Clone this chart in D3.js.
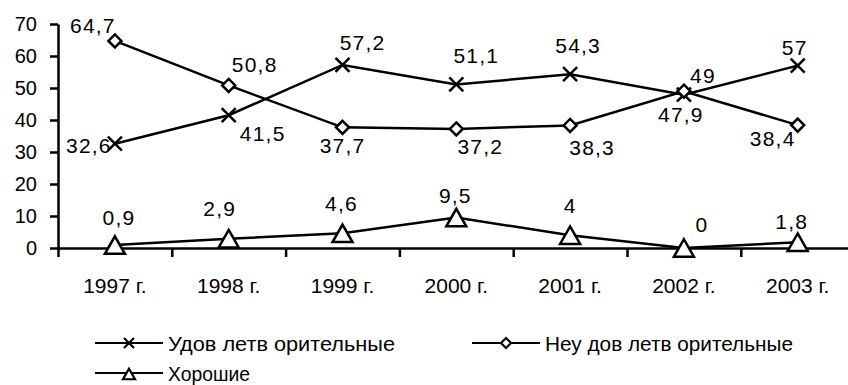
<!DOCTYPE html>
<html>
<head>
<meta charset="utf-8">
<script src="https://cdn.jsdelivr.net/npm/d3@7"></script>
<style>
  html, body { margin: 0; padding: 0; background: #fff; }
  svg { display: block; font-family: "Liberation Sans", Arial, sans-serif; }
</style>
</head>
<body>
<svg id="chart" width="848" height="385"></svg>
<script>
// Categories and series values
const years = ["1997 г.", "1998 г.", "1999 г.", "2000 г.", "2001 г.", "2002 г.", "2003 г."];
const satisfactory = [32.6, 41.5, 57.2, 51.1, 54.3, 47.9, 57];
const unsatisfactory = [64.7, 50.8, 37.7, 37.2, 38.3, 49, 38.4];
const good = [0.9, 2.9, 4.6, 9.5, 4, 0, 1.8];
const yTicks = [0, 10, 20, 30, 40, 50, 60, 70];
const seriesNames = ["Удов летв орительные", "Неу дов летв орительные", "Хорошие"];

const svg = d3.select("#chart");
const plotLeft = 58, step = 113.8, plotTop = 24, plotBottom = 248;

const x = d3.scaleBand().domain(years).range([plotLeft, plotLeft + step * years.length]).padding(0);
const xc = d => x(d) + x.bandwidth() / 2;
const y = d3.scaleLinear().domain([0, 70]).range([plotBottom, plotTop]);

// Y axis
const yAxis = svg.append("g")
  .attr("transform", `translate(${plotLeft},0)`)
  .call(d3.axisLeft(y).tickValues(yTicks).tickSize(8).tickSizeOuter(0).tickPadding(13));
yAxis.select(".domain").attr("stroke", "#000").attr("stroke-width", 2.5);
yAxis.selectAll(".tick line").attr("stroke", "#000").attr("stroke-width", 2.5);
yAxis.selectAll(".tick text").attr("font-size", 20).attr("fill", "#000")
  .attr("font-family", "Liberation Sans, Arial, sans-serif").attr("dy", "0.33em");

// X axis: line with tick marks between categories
const xb = d3.scaleLinear().domain([0, years.length]).range([plotLeft, plotLeft + step * years.length]);
const xAxis = svg.append("g")
  .attr("transform", `translate(0,${plotBottom})`)
  .call(d3.axisBottom(xb).tickValues(d3.range(0, years.length + 1)).tickSize(9).tickSizeOuter(0).tickFormat(""));
xAxis.select(".domain").attr("stroke", "#000").attr("stroke-width", 2.5);
xAxis.selectAll(".tick line").attr("stroke", "#000").attr("stroke-width", 2.5);

// Category labels
const xLab = svg.append("g")
  .attr("transform", `translate(0,${plotBottom})`)
  .call(d3.axisBottom(x).tickSize(0).tickPadding(0));
xLab.select(".domain").remove();
xLab.selectAll(".tick text").attr("font-size", 21).attr("fill", "#000")
  .attr("font-family", "Liberation Sans, Arial, sans-serif")
  .attr("y", 45).attr("dy", 0);

// Marker shapes
function markerPath(kind, s) {
  if (kind === "x") return `M${-s},${-s}L${s},${s}M${-s},${s}L${s},${-s}`;
  if (kind === "diamond") return `M0,${-s}L${s},0L0,${s}L${-s},0Z`;
  const h = s * 1.75;
  return `M0,${-h / 2}L${s},${h / 2}L${-s},${h / 2}Z`;
}

const fmt = v => String(v).replace(".", ",");

const series = [
  { values: satisfactory, kind: "x", size: 7,
    offsets: [[-26, 9], [34, 26], [20, -15], [20, -21], [8, -21], [-3, 27], [-3, -11]] },
  { values: unsatisfactory, kind: "diamond", size: 6.5,
    offsets: [[-22, -8], [26, -13], [0, 26], [24, 25], [22, 30], [19, -8], [-25, 21]] },
  { values: good, kind: "triangle", size: 10,
    offsets: [[4, -20], [-9, -23], [-1, -22], [-1, -15], [0, -22], [18, -16], [-6, -13]] }
];

const line = d3.line().x((d, i) => xc(years[i])).y(d => y(d));

series.forEach(s => {
  const g = svg.append("g");
  g.append("path").datum(s.values)
    .attr("d", line).attr("fill", "none").attr("stroke", "#000").attr("stroke-width", 2.5);
  g.selectAll("path.mk").data(s.values).join("path").attr("class", "mk")
    .attr("transform", (d, i) => `translate(${xc(years[i])},${y(d)})`)
    .attr("d", markerPath(s.kind, s.size))
    .attr("fill", s.kind === "x" ? "none" : "#fff")
    .attr("stroke", "#000").attr("stroke-width", 2.5);
});

series.forEach(s => {
  svg.append("g").selectAll("text").data(s.values).join("text")
    .attr("x", (d, i) => xc(years[i]) + s.offsets[i][0])
    .attr("y", (d, i) => y(d) + s.offsets[i][1])
    .attr("text-anchor", "middle")
    .attr("font-size", 21).attr("letter-spacing", 1.2).attr("fill", "#000")
    .text(d => fmt(d));
});

// Legend
const legendItems = [
  { name: seriesNames[0], kind: "x", lx: 95, ly: 343, width: 227 },
  { name: seriesNames[1], kind: "diamond", lx: 472, ly: 343, width: 248 },
  { name: seriesNames[2], kind: "triangle", lx: 95, ly: 373, width: 82 }
];
const legend = svg.append("g");
legendItems.forEach(it => {
  const g = legend.append("g").attr("transform", `translate(${it.lx},${it.ly})`);
  g.append("line").attr("x1", 0).attr("x2", 68).attr("y1", 0).attr("y2", 0)
    .attr("stroke", "#000").attr("stroke-width", 2.2);
  const s = it.kind === "triangle" ? 6 : 5;
  g.append("path").attr("transform", `translate(34,${it.kind === "triangle" ? 1 : 0})`)
    .attr("d", markerPath(it.kind, s))
    .attr("fill", it.kind === "x" ? "none" : "#fff")
    .attr("stroke", "#000").attr("stroke-width", 2.2);
  g.append("text").attr("x", 73).attr("y", 8)
    .attr("font-size", 21).attr("fill", "#000")
    .attr("textLength", it.width).attr("lengthAdjust", "spacingAndGlyphs")
    .text(it.name);
});
</script>
</body>
</html>
